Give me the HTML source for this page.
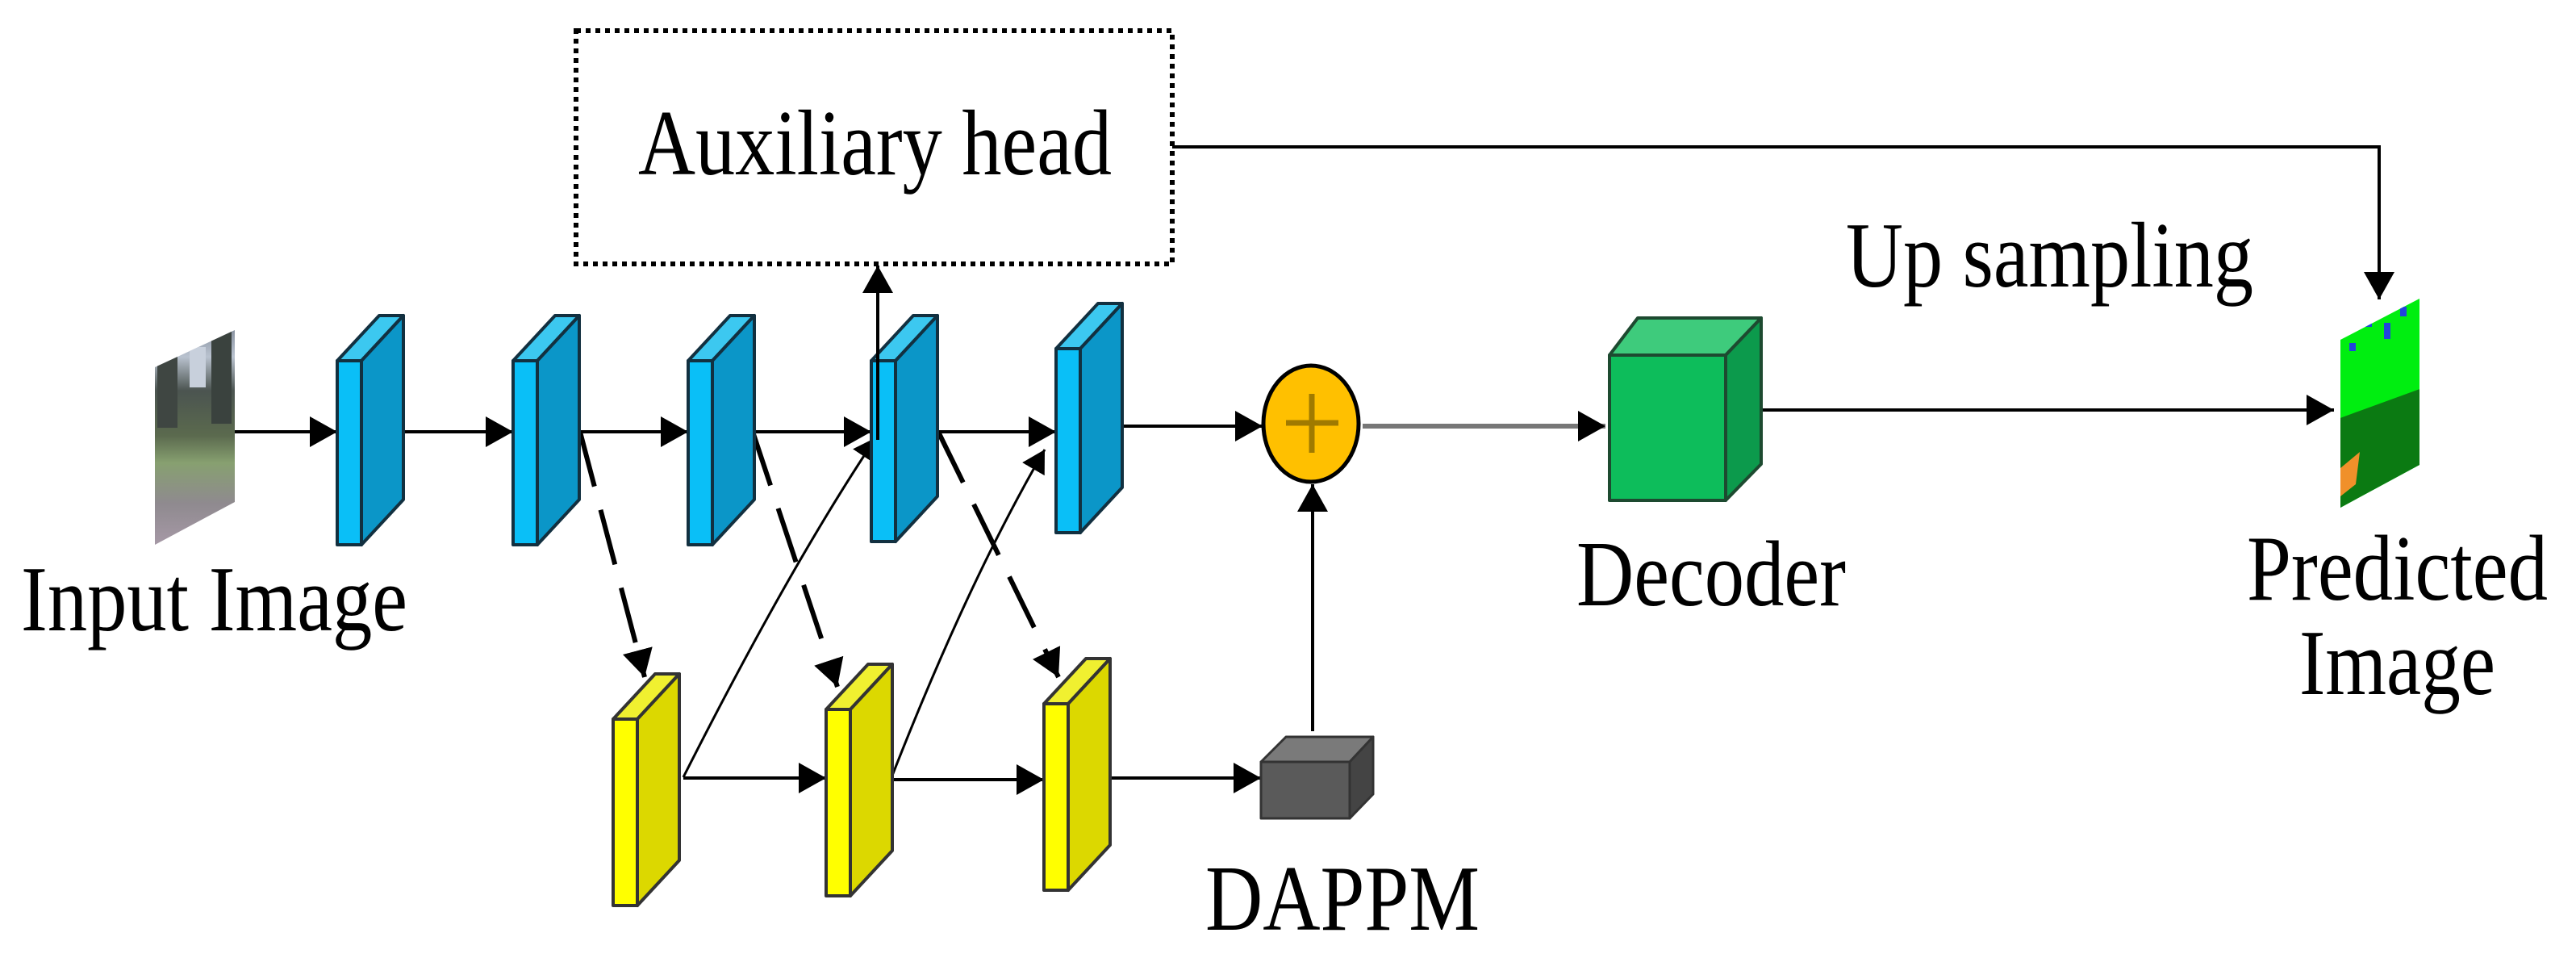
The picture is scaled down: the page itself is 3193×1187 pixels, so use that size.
<!DOCTYPE html>
<html><head><meta charset="utf-8"><style>html,body{margin:0;padding:0;background:#fff}svg{display:block}</style></head>
<body>
<svg width="3193" height="1187" viewBox="0 0 3193 1187" xmlns="http://www.w3.org/2000/svg" font-family="'Liberation Serif', serif" font-size="116">
<defs>
<marker id="ah" markerUnits="userSpaceOnUse" markerWidth="36" markerHeight="38" refX="34" refY="19" orient="auto"><path d="M0,0 L34,19 L0,38 z" fill="#000"/></marker>
<marker id="ahs" markerUnits="userSpaceOnUse" markerWidth="30" markerHeight="32" refX="28" refY="16" orient="auto"><path d="M0,0 L28,16 L0,32 z" fill="#000"/></marker>
<linearGradient id="photo" x1="0" y1="0" x2="0" y2="1">
<stop offset="0" stop-color="#7d8694"/><stop offset="0.15" stop-color="#b9c2cf"/><stop offset="0.3" stop-color="#4b5450"/><stop offset="0.5" stop-color="#5b6a4e"/><stop offset="0.62" stop-color="#87a070"/><stop offset="0.8" stop-color="#8f8a8f"/><stop offset="1" stop-color="#a89aa8"/></linearGradient>
<clipPath id="pc"><polygon points="2901,421 2999,370 2999,576 2901,629"/></clipPath>
<clipPath id="ic"><polygon points="192,455 291,409 291,622 192,675"/></clipPath>
</defs>

<!-- Auxiliary head box -->
<rect x="714" y="38" width="739" height="289" fill="none" stroke="#000" stroke-width="6" stroke-dasharray="6,6"/>
<text x="791" y="216" textLength="587" lengthAdjust="spacingAndGlyphs">Auxiliary head</text>

<!-- Input image -->
<g clip-path="url(#ic)">
<rect x="185" y="400" width="110" height="280" fill="url(#photo)"/>
<rect x="195" y="420" width="25" height="110" fill="#3f4642"/>
<rect x="262" y="405" width="25" height="120" fill="#3a423e"/>
<rect x="235" y="430" width="20" height="50" fill="#c8d0dc"/>
</g>

<!-- main line arrows -->
<g stroke="#000" stroke-width="4" fill="none">
<line x1="291" y1="535" x2="418" y2="535" marker-end="url(#ah)"/>
<line x1="502" y1="535" x2="636" y2="535" marker-end="url(#ah)"/>
<line x1="720" y1="535" x2="853" y2="535" marker-end="url(#ah)"/>
<line x1="935" y1="535" x2="1080" y2="535" marker-end="url(#ah)"/>
<line x1="1163" y1="535" x2="1309" y2="535" marker-end="url(#ah)"/>
<line x1="1392" y1="528" x2="1565" y2="528" marker-end="url(#ah)"/>
<line x1="847" y1="964" x2="1024" y2="964" marker-end="url(#ah)"/>
<line x1="1108" y1="966" x2="1294" y2="966" marker-end="url(#ah)"/>
<line x1="1374" y1="964" x2="1563" y2="964" marker-end="url(#ah)"/>
<line x1="1627" y1="906" x2="1627" y2="600" marker-end="url(#ah)"/>
<line x1="1088" y1="545" x2="1088" y2="329" marker-end="url(#ah)"/>
<polyline points="1453,182 2949,182 2949,371" marker-end="url(#ah)"/>
<line x1="2183" y1="508" x2="2893" y2="508" marker-end="url(#ah)"/>
</g>
<line x1="1689" y1="528" x2="1990" y2="528" stroke="#777" stroke-width="6" marker-end="url(#ah)"/>

<!-- dashed arrows -->
<g stroke="#000" stroke-width="6" fill="none" stroke-dasharray="70,30">
<line x1="719" y1="535" x2="799" y2="839" marker-end="url(#ah)"/>
<line x1="933" y1="535" x2="1038" y2="851" marker-end="url(#ah)"/>
<line x1="1163" y1="535" x2="1312" y2="839" marker-end="url(#ah)"/>
</g>

<!-- thin diagonals -->
<g stroke="#000" stroke-width="3" fill="none">
<path d="M847,963 Q980,700 1086,542" marker-end="url(#ahs)"/>
<path d="M1104,966 Q1200,720 1295,557" marker-end="url(#ahs)"/>
</g>

<!-- blue slabs -->
<g stroke="#123040" stroke-width="4" stroke-linejoin="round">
<g><polygon points="418,447 470,391 500,391 448,447" fill="#3cc8f0"/><polygon points="448,447 500,391 500,619 448,675" fill="#0b96c8"/><rect x="418" y="447" width="30" height="228" fill="#0abff7"/></g>
<g><polygon points="636,447 688,391 718,391 666,447" fill="#3cc8f0"/><polygon points="666,447 718,391 718,619 666,675" fill="#0b96c8"/><rect x="636" y="447" width="30" height="228" fill="#0abff7"/></g>
<g><polygon points="853,447 905,391 935,391 883,447" fill="#3cc8f0"/><polygon points="883,447 935,391 935,619 883,675" fill="#0b96c8"/><rect x="853" y="447" width="30" height="228" fill="#0abff7"/></g>
<g><polygon points="1080,447 1132,391 1162,391 1110,447" fill="#3cc8f0"/><polygon points="1110,447 1162,391 1162,615 1110,671" fill="#0b96c8"/><rect x="1080" y="447" width="30" height="224" fill="#0abff7"/></g>
<g><polygon points="1309,432 1361,376 1391,376 1339,432" fill="#3cc8f0"/><polygon points="1339,432 1391,376 1391,604 1339,660" fill="#0b96c8"/><rect x="1309" y="432" width="30" height="228" fill="#0abff7"/></g>
</g>
<line x1="1088" y1="545" x2="1088" y2="380" stroke="#000" stroke-width="4"/>

<!-- yellow slabs -->
<g stroke="#333" stroke-width="4" stroke-linejoin="round">
<g><polygon points="760,891 812,835 842,835 790,891" fill="#f0f030"/><polygon points="790,891 842,835 842,1066 790,1122" fill="#dcd800"/><rect x="760" y="891" width="30" height="231" fill="#ffff00"/></g>
<g><polygon points="1024,879 1076,823 1106,823 1054,879" fill="#f0f030"/><polygon points="1054,879 1106,823 1106,1054 1054,1110" fill="#dcd800"/><rect x="1024" y="879" width="30" height="231" fill="#ffff00"/></g>
<g><polygon points="1294,872 1346,816 1376,816 1324,872" fill="#f0f030"/><polygon points="1324,872 1376,816 1376,1047 1324,1103" fill="#dcd800"/><rect x="1294" y="872" width="30" height="231" fill="#ffff00"/></g>
</g>

<!-- sum circle -->
<ellipse cx="1625" cy="525" rx="59" ry="72" fill="#ffc000" stroke="#000" stroke-width="5"/>
<g stroke="#a07a00" stroke-width="7"><line x1="1594" y1="524" x2="1659" y2="524"/><line x1="1626" y1="488" x2="1626" y2="561"/></g>

<!-- DAPPM cube -->
<g stroke="#333" stroke-width="3" stroke-linejoin="round">
<polygon points="1563,944 1594,913 1702,913 1673,944" fill="#7a7a7a"/>
<polygon points="1673,944 1702,913 1702,984 1673,1014" fill="#444"/>
<rect x="1563" y="944" width="110" height="70" fill="#5a5a5a"/>
</g>

<!-- Decoder cube -->
<g stroke="#1d4a30" stroke-width="4" stroke-linejoin="round">
<polygon points="1995,440 2030,394 2183,394 2139,440" fill="#3ecb7c"/>
<polygon points="2139,440 2183,394 2183,575 2139,620" fill="#0c9a4c"/>
<rect x="1995" y="440" width="144" height="180" fill="#0dbd5b"/>
</g>

<!-- predicted image -->
<g clip-path="url(#pc)">
<rect x="2895" y="360" width="110" height="280" fill="#00ee10"/>
<polygon points="2895,520 3005,480 3005,640 2895,640" fill="#0b7a12"/>
<rect x="2930" y="380" width="10" height="25" fill="#2244dd"/>
<rect x="2912" y="425" width="8" height="10" fill="#2244dd"/>
<rect x="2955" y="400" width="8" height="20" fill="#2244dd"/>
<rect x="2975" y="380" width="8" height="12" fill="#2244dd"/>
<polygon points="2901,580 2925,560 2920,600 2901,615" fill="#f0902a"/>
</g>

<!-- labels -->
<text x="26" y="781" textLength="479" lengthAdjust="spacingAndGlyphs">Input Image</text>
<text x="2288" y="355" textLength="505" lengthAdjust="spacingAndGlyphs">Up sampling</text>
<text x="1954" y="750" textLength="334" lengthAdjust="spacingAndGlyphs">Decoder</text>
<text x="2785" y="743" textLength="373" lengthAdjust="spacingAndGlyphs">Predicted</text>
<text x="2850" y="860" textLength="243" lengthAdjust="spacingAndGlyphs">Image</text>
<text x="1494" y="1152" textLength="340" lengthAdjust="spacingAndGlyphs">DAPPM</text>
</svg>
</body></html>
